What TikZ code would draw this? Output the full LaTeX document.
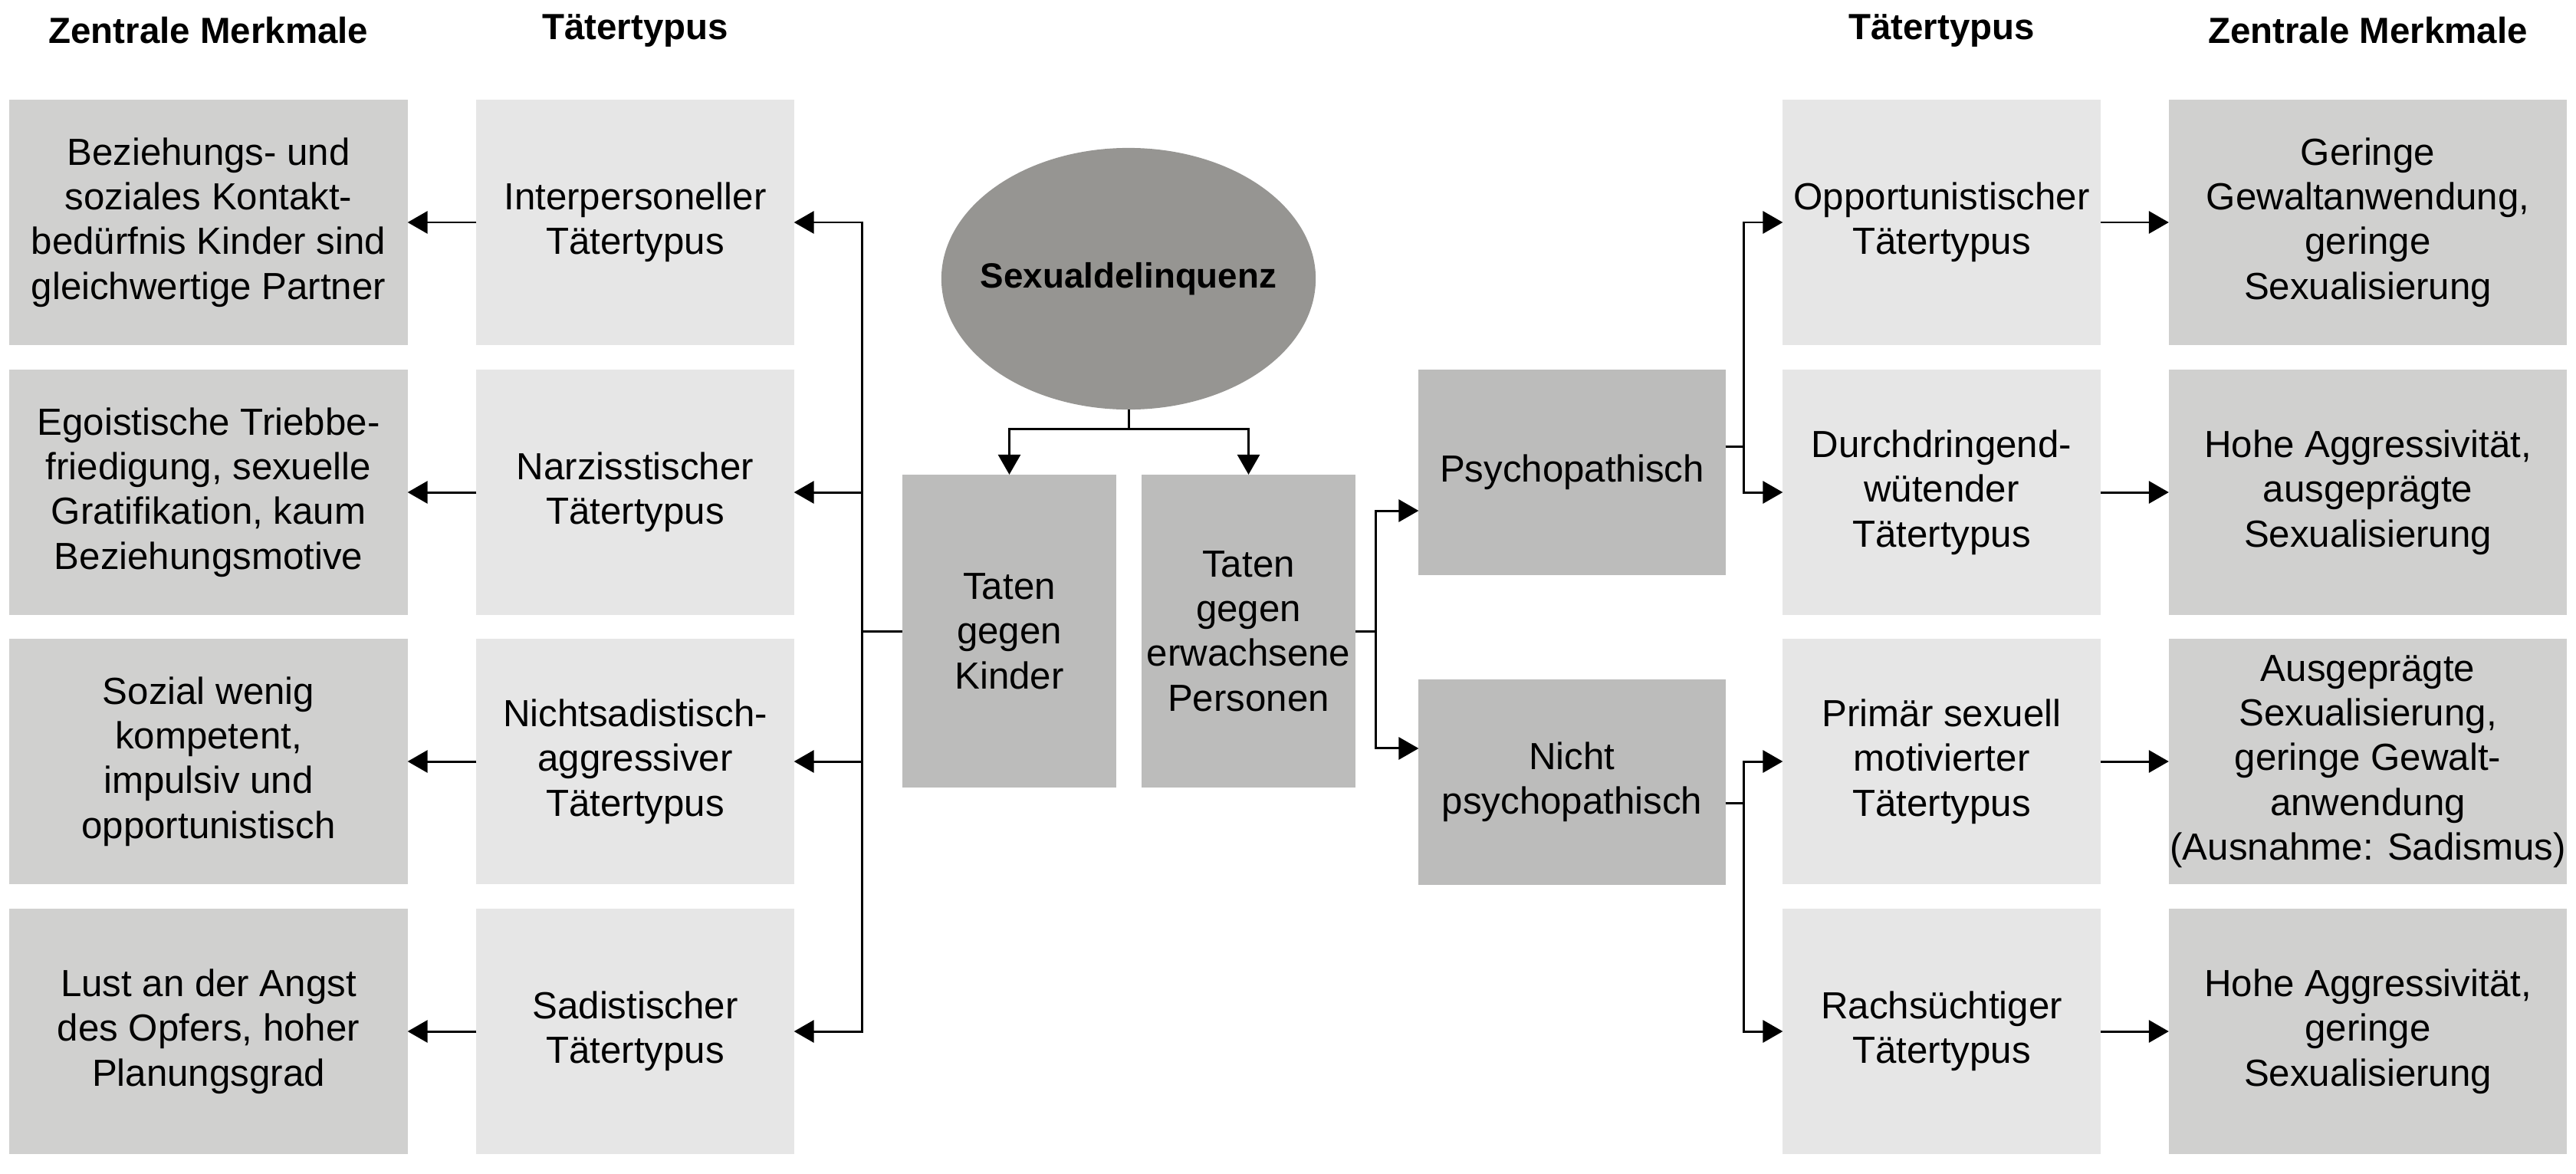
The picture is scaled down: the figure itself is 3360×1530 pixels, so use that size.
\documentclass[tikz,border=0pt]{standalone}
\usepackage{fontspec}
\setmainfont{Liberation Sans}
\usetikzlibrary{arrows.meta,shapes.geometric}

\definecolor{mmgrau}{HTML}{D0D0CF}
\definecolor{ttgrau}{HTML}{E6E6E6}
\definecolor{tatgrau}{HTML}{BCBCBB}
\definecolor{kerngrau}{HTML}{969592}

\begin{document}
\begin{tikzpicture}[x=0.01cm,y=-0.01cm,
  >={Triangle[length=0.26cm,width=0.29cm]},
  font=\fontsize{14}{16.6}\selectfont,
  kopf/.style={font=\fontsize{13.5}{15}\selectfont\bfseries},
  merkmal/.style={fill=mmgrau,minimum width=5.19cm,minimum height=3.2cm,
    inner sep=0pt,outer sep=0pt,align=center},
  typ/.style={fill=ttgrau,minimum width=4.14cm,minimum height=3.2cm,
    inner sep=0pt,outer sep=0pt,align=center},
  tat/.style={fill=tatgrau,inner sep=0pt,outer sep=0pt,align=center},
  kern/.style={ellipse,fill=kerngrau,minimum width=4.88cm,minimum height=3.41cm,
    inner sep=0pt,outer sep=0pt},
  linie/.style={line width=0.85pt},
  pfeil/.style={->,line width=0.85pt}]
\useasboundingbox (0,0) rectangle (3360,1530);

% Spaltenkoepfe
\node[kopf] (kopfL1) at (272,40) {Zentrale Merkmale};
\node[kopf] (kopfL2) at (828.5,40) {Tätertypus};
\node[kopf] (kopfR2) at (2532.5,40) {Tätertypus};
\node[kopf] (kopfR1) at (3088.5,40) {Zentrale Merkmale};

% linke Seite
\node[merkmal] (mml1) at (272,290) {Beziehungs- und\\soziales Kontakt-\\bedürfnis Kinder sind\\gleichwertige Partner};
\node[merkmal] (mml2) at (272,642) {Egoistische Triebbe-\\friedigung, sexuelle\\Gratifikation, kaum\\Beziehungsmotive};
\node[merkmal] (mml3) at (272,993) {Sozial wenig\\kompetent,\\impulsiv und\\opportunistisch};
\node[merkmal] (mml4) at (272,1345) {Lust an der Angst\\des Opfers, hoher\\Planungsgrad};
\node[typ] (ttl1) at (828.5,290) {Interpersoneller\\Tätertypus};
\node[typ] (ttl2) at (828.5,642) {Narzisstischer\\Tätertypus};
\node[typ] (ttl3) at (828.5,993) {Nichtsadistisch-\\aggressiver\\Tätertypus};
\node[typ] (ttl4) at (828.5,1345) {Sadistischer\\Tätertypus};

% Mitte
\node[kern] (sexd) at (1472,363.5) {};
\node[font=\fontsize{13}{15}\selectfont\bfseries] (sexdtext) at (sexd.center) {Sexualdelinquenz};
\node[tat,minimum width=2.79cm,minimum height=4.08cm] (kinder) at (1316.5,823) {Taten\\gegen\\Kinder};
\node[tat,minimum width=2.79cm,minimum height=4.08cm] (erwachsen) at (1628.5,823) {Taten\\gegen\\erwachsene\\Personen};
\node[tat,minimum width=4cm,minimum height=2.67cm] (psych) at (2050.5,616) {Psychopathisch};
\node[tat,minimum width=4cm,minimum height=2.67cm] (nichtpsych) at (2050.5,1020) {Nicht\\psychopathisch};

% rechte Seite
\node[typ] (ttr1) at (2532.5,290) {Opportunistischer\\Tätertypus};
\node[typ] (ttr2) at (2532.5,642) {Durchdringend-\\wütender\\Tätertypus};
\node[typ] (ttr3) at (2532.5,993) {Primär sexuell\\motivierter\\Tätertypus};
\node[typ] (ttr4) at (2532.5,1345) {Rachsüchtiger\\Tätertypus};
\node[merkmal] (mmr1) at (3088.5,290) {Geringe\\Gewaltanwendung,\\geringe\\Sexualisierung};
\node[merkmal] (mmr2) at (3088.5,642) {Hohe Aggressivität,\\ausgeprägte\\Sexualisierung};
\node[merkmal] (mmr3) at (3088.5,993) {Ausgeprägte\\Sexualisierung,\\geringe Gewalt-\\anwendung\\(Ausnahme: Sadismus)};
\node[merkmal] (mmr4) at (3088.5,1345) {Hohe Aggressivität,\\geringe\\Sexualisierung};

% Verbindungen
\draw[linie] (sexd.south) -- ++(0,25) coordinate (gabel);
\draw[pfeil] (gabel) -| (kinder.north);
\draw[pfeil] (gabel) -| (erwachsen.north);

\draw[linie] (kinder.west) -- ++(-52,0) coordinate (stammL);
\foreach \i in {1,...,4} {
  \draw[pfeil] (stammL) |- (ttl\i.east);
  \draw[pfeil] (ttl\i.west) -- (mml\i.east);
}

\draw[linie] (erwachsen.east) -- ++(26,0) coordinate (stammM);
\draw[pfeil] (stammM) |- ([yshift=-0.5cm]psych.west);
\draw[pfeil] (stammM) |- ([yshift=0.44cm]nichtpsych.west);

\draw[linie] ([yshift=0.335cm]psych.east) -- ++(23.5,0) coordinate (stammP);
\draw[pfeil] (stammP) |- (ttr1.west);
\draw[pfeil] (stammP) |- (ttr2.west);
\draw[linie] ([yshift=-0.27cm]nichtpsych.east) -- ++(23.5,0) coordinate (stammN);
\draw[pfeil] (stammN) |- (ttr3.west);
\draw[pfeil] (stammN) |- (ttr4.west);

\foreach \i in {1,...,4} {
  \draw[pfeil] (ttr\i.east) -- (mmr\i.west);
}
\end{tikzpicture}
\end{document}
